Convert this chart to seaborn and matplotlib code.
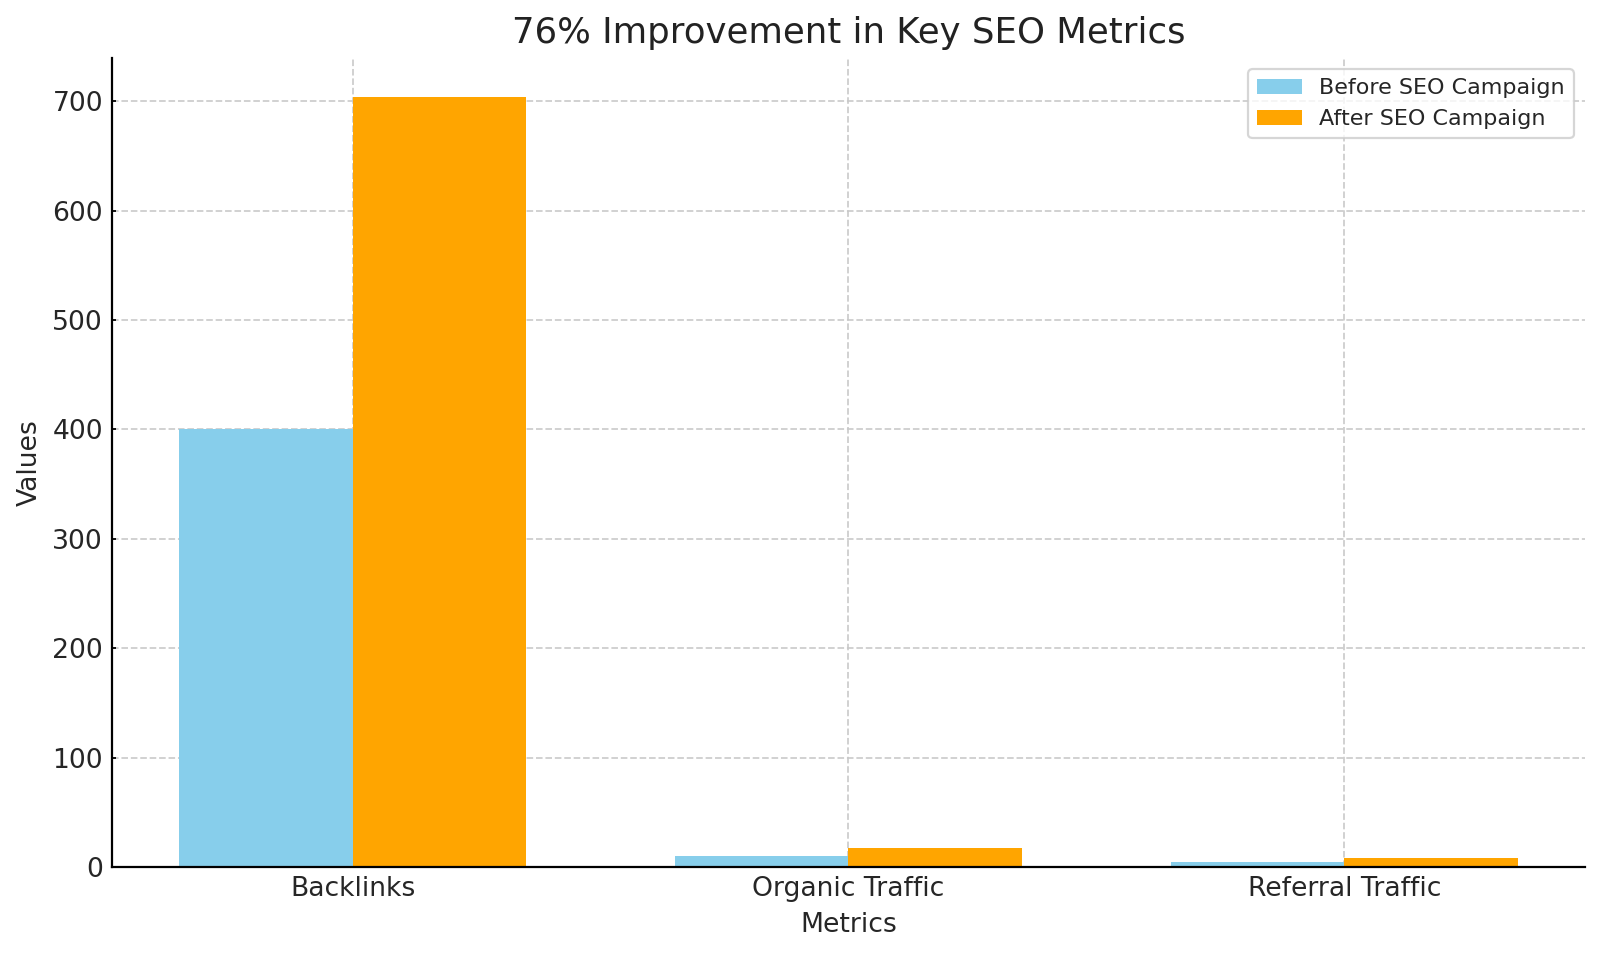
import pandas as pd
import matplotlib.pyplot as plt
import seaborn as sns

metrics = ['Backlinks', 'Organic Traffic', 'Referral Traffic']
before = [400, 10, 5]
after = [704, 17.6, 8.8]
series_names = ['Before SEO Campaign', 'After SEO Campaign']
colors = ['#87CEEB', '#FFA500']

df = pd.DataFrame({
    'Metrics': metrics * 2,
    'Values': before + after,
    'Campaign': [series_names[0]] * 3 + [series_names[1]] * 3,
})

sns.set_style('white')
plt.rcParams['font.family'] = ['DejaVu Sans']

fig = plt.figure(figsize=(10, 5.9625), dpi=160)
ax = fig.add_axes([0.07, 0.091, 0.9206, 0.848])

sns.barplot(data=df, x='Metrics', y='Values', hue='Campaign',
            palette=colors, width=0.7, gap=0, saturation=1,
            edgecolor='none', linewidth=0, ax=ax)

# matplotlib-style margins instead of seaborn's categorical limits
ax.set_xlim(-0.485, 2.485)

ax.set_axisbelow(True)
ax.grid(True, linestyle='--', color='#c8c8c8', linewidth=0.8, alpha=0.9)
for side in ['top', 'right']:
    ax.spines[side].set_visible(False)
for side in ['left', 'bottom']:
    ax.spines[side].set_color('black')
    ax.spines[side].set_linewidth(1.0)

ax.tick_params(axis='both', labelsize=12, direction='in', length=2,
               pad=4, color='black', left=True, bottom=True)
ax.set_xlabel('Metrics', fontsize=12, labelpad=4.5)
ax.set_ylabel('Values', fontsize=12, labelpad=4.5)
ax.set_title('76% Improvement in Key SEO Metrics', fontsize=16,
             color='#222222', pad=7)
ax.legend(loc='upper right', fontsize=10, title=None)

fig.savefig('out.png', dpi=160)
